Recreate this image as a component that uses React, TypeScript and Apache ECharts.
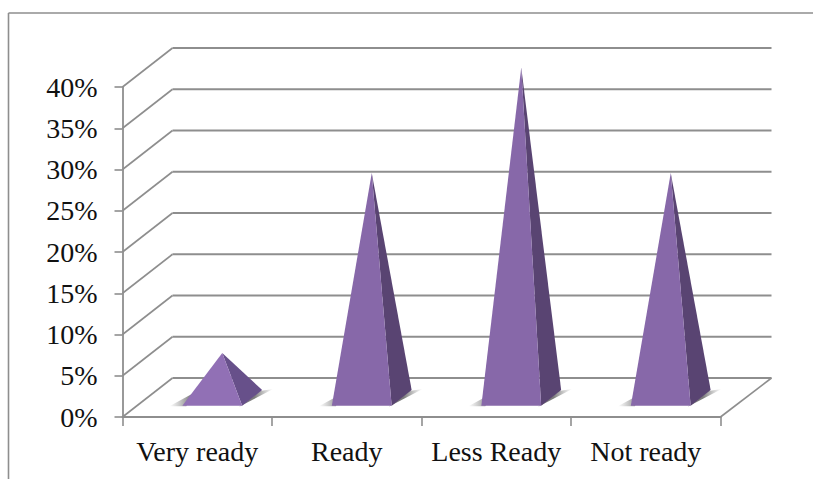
import React, { useEffect, useRef } from "react";
import * as echarts from "echarts";

const categories = ["Very ready", "Ready", "Less Ready", "Not ready"];
const values = [5.4, 27.2, 40, 27.2];
const wallTicks = [0, 5, 10, 15, 20, 25, 30, 35, 40];

const W = 813;
const H = 479;
const GRID_LEFT = 122.5;
const GRID_RIGHT_X = 720.5;
const GRID_TOP = 87;
const GRID_BOTTOM_Y = 417;
const DEPTH_X = 50;
const DEPTH_Y = 39;
const LINE = "#8e8e8e";
const FONT = "'Liberation Serif', serif";

const fade = (x: number, y: number, x2: number, y2: number, dark: string, light: string) =>
  new echarts.graphic.LinearGradient(x, y, x2, y2, [
    { offset: 0, color: dark },
    { offset: 1, color: light },
  ]);

export default function App() {
  const ref = useRef<HTMLDivElement>(null);
  useEffect(() => {
    const chart = echarts.init(ref.current!, undefined, { renderer: "svg" });
    chart.setOption({
      animation: false,
      backgroundColor: "#ffffff",
      grid: {
        left: GRID_LEFT,
        top: GRID_TOP,
        width: GRID_RIGHT_X - GRID_LEFT,
        height: GRID_BOTTOM_Y - GRID_TOP,
      },
      xAxis: {
        type: "category",
        data: categories,
        axisLine: { lineStyle: { color: LINE, width: 1.8 } },
        axisTick: { show: true, length: 9, alignWithLabel: false, lineStyle: { color: LINE, width: 1.6 } },
        axisLabel: { color: "#111", fontFamily: FONT, fontSize: 28, margin: 20, interval: 0 },
      },
      yAxis: {
        type: "value",
        min: 0,
        max: 40,
        interval: 5,
        splitLine: { show: false },
        axisLine: { show: true, lineStyle: { color: LINE, width: 1.8 } },
        axisTick: { show: true, length: 8, lineStyle: { color: LINE, width: 1.6 } },
        axisLabel: { color: "#111", fontFamily: FONT, fontSize: 28, margin: 25, formatter: "{value}%" },
      },
      series: [
        {
          type: "custom",
          silent: true,
          z: 1,
          data: wallTicks.map((v) => [0, v]),
          encode: { x: 0, y: 1 },
          renderItem: (params: any, api: any) => {
            const cs = params.coordSys;
            const y = api.coord([0, api.value(1)])[1];
            const x0 = cs.x;
            const x1 = cs.x + cs.width;
            const children: any[] = [
              {
                type: "line",
                shape: { x1: x0, y1: y, x2: x0 + DEPTH_X, y2: y - DEPTH_Y },
                style: { stroke: LINE, lineWidth: 1.6 },
              },
              {
                type: "line",
                shape: { x1: x0 + DEPTH_X, y1: y - DEPTH_Y, x2: x1 + DEPTH_X + 1, y2: y - DEPTH_Y },
                style: { stroke: LINE, lineWidth: 2 },
              },
            ];
            if (api.value(1) === 0) {
              children.push({
                type: "line",
                shape: { x1: x1, y1: y, x2: x1 + DEPTH_X + 1, y2: y - DEPTH_Y },
                style: { stroke: LINE, lineWidth: 1.6 },
              });
            }
            return { type: "group", children };
          },
        },
        {
          type: "custom",
          silent: true,
          z: 3,
          data: values.map((v, i) => [i, v]),
          encode: { x: 0, y: 1 },
          renderItem: (params: any, api: any) => {
            const v = api.value(1);
            const c = api.coord([api.value(0), v]);
            const zero = api.coord([api.value(0), 0]);
            const band = api.size([1, 0])[0];
            const half = band * 0.2;
            const cx = zero[0] + 15;
            const by = zero[1] - 11.3;
            const backX = cx + half + 20;
            const backY = by - 15.7;
            const apex = [zero[0] + DEPTH_X / 2, c[1] - DEPTH_Y / 2];
            const small = v < 10;
            return {
              type: "group",
              children: [
                {
                  type: "polygon",
                  shape: { points: [[cx - half - 13, by + 0.5], [cx - half + 4, by + 0.5], [cx - half + 10, by - 12]] },
                  style: { fill: fade(0, 0, 1, 0, "rgba(120,120,120,0)", "rgba(80,80,80,0.8)") },
                },
                {
                  type: "polygon",
                  shape: { points: [[cx + half - 3, by + 1], [backX - 2, backY + 1], [backX + 11, backY - 1]] },
                  style: { fill: fade(0.45, 0, 1, 0, "rgba(80,80,80,0.75)", "rgba(120,120,120,0)") },
                },
                {
                  type: "polygon",
                  shape: { points: [[cx + half, by], [backX, backY], apex] },
                  style: { fill: small ? "#67508a" : "#594472" },
                },
                {
                  type: "polygon",
                  shape: { points: [[cx - half, by], [cx + half, by], apex] },
                  style: { fill: small ? "#9170b5" : "#8768a9" },
                },
              ],
            };
          },
        },
      ],
      graphic: [
        { type: "line", shape: { x1: 8.5, y1: 13, x2: W, y2: 13 }, style: { stroke: LINE, lineWidth: 1.6 } },
        { type: "line", shape: { x1: 8.5, y1: 13, x2: 8.5, y2: H }, style: { stroke: LINE, lineWidth: 1.6 } },
      ],
    });
    return () => chart.dispose();
  }, []);
  return <div ref={ref} style={{ position: "fixed", left: 0, top: 0, width: W, height: H }} />;
}
